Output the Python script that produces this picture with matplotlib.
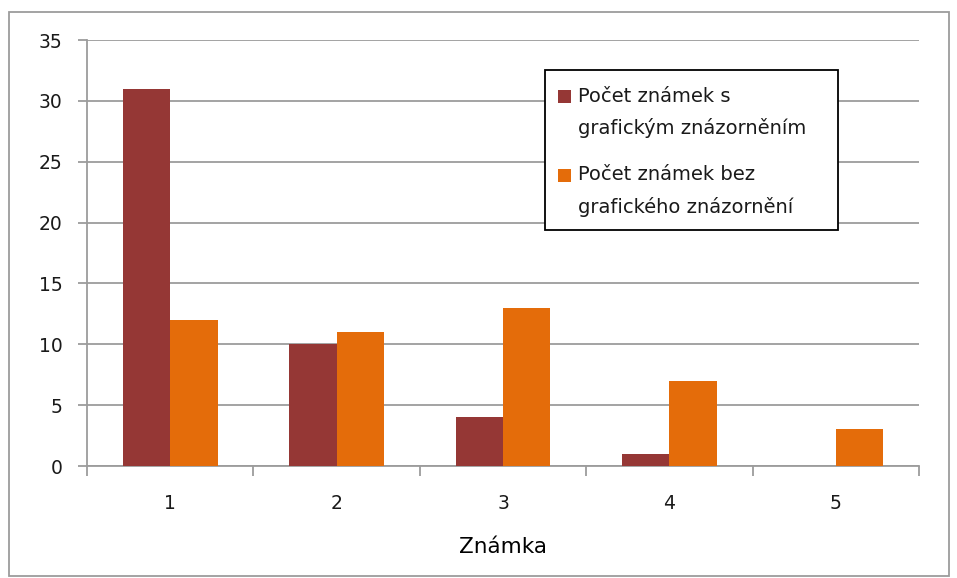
import matplotlib.pyplot as plt
import numpy as np
from matplotlib.patches import Rectangle

plt.rcParams['font.family'] = ['DejaVu Sans']
plt.rcParams['text.color'] = '#1a1a1a'
plt.rcParams['xtick.labelcolor'] = '#1a1a1a'
plt.rcParams['ytick.labelcolor'] = '#1a1a1a'

znamky = ['1', '2', '3', '4', '5']
s_grafem = [31, 10, 4, 1, 0]
bez_grafu = [12, 11, 13, 7, 3]
popisky = [['Počet známek s', 'grafickým znázorněním'],
           ['Počet známek bez', 'grafického znázornění']]

c_s = '#953735'
c_bez = '#E46C0A'
seda = '#9c9c9c'

W, H = 957, 578
fig = plt.figure(figsize=(W/100, H/100), dpi=100)


def px(x, y):
    # pixely od leveho horniho rohu -> souradnice obrazku
    return x / W, 1 - y / H


ax = fig.add_axes([87/W, 1 - 466/H, (919-87)/W, (466-40)/H])

x = np.arange(1, len(znamky) + 1)
w = 0.285
ax.bar(x - w/2, s_grafem, w, color=c_s, zorder=3)
ax.bar(x + w/2, bez_grafu, w, color=c_bez, zorder=3)

ax.set_xlim(0.5, 5.5)
ax.set_ylim(0, 35)
ax.set_yticks(range(0, 36, 5))
ax.yaxis.grid(True, color=seda, linewidth=1.3, zorder=0)

# kategorie popsany uprostred, carky mezi nimi
ax.set_xticks(x)
ax.set_xticklabels(znamky)
ax.set_xticks(np.arange(0.5, 5.6, 1), minor=True)
ax.tick_params(axis='x', which='major', length=0, pad=20.5, labelsize=13.5)
ax.tick_params(axis='x', which='minor', length=7.2, width=1.3, color=seda, direction='out')
ax.tick_params(axis='y', length=6.5, width=1.3, color=seda, direction='out', pad=11, labelsize=13.5)

for s in ['top', 'right']:
    ax.spines[s].set_visible(False)
for s in ['left', 'bottom']:
    ax.spines[s].set_color(seda)
    ax.spines[s].set_linewidth(1.3)

ax.set_xlabel('Známka', fontsize=15.5, labelpad=17)

# legenda rucne, ctverecek zarovnany s prvnim radkem popisku
fx, fy = px(545, 230)
fig.patches.append(Rectangle((fx, fy), (838-545)/W, (230-70)/H, transform=fig.transFigure,
                             facecolor='white', edgecolor='black', linewidth=1.3, zorder=5))
for barva, radky, y0 in zip([c_s, c_bez], popisky, [96, 175]):
    sx, sy = px(558, y0 + 6.5)
    fig.patches.append(Rectangle((sx, sy), 13/W, 13/H, transform=fig.transFigure,
                                 facecolor=barva, edgecolor='none', zorder=6))
    for i, radek in enumerate(radky):
        tx, ty = px(578, y0 + i * 32)
        fig.text(tx, ty, radek, fontsize=14, va='center', ha='left', zorder=7)

fig.patches.append(Rectangle(px(9, 576), (949-9)/W, (576-12)/H,
                             transform=fig.transFigure, fill=False,
                             edgecolor=seda, linewidth=1.3))

plt.savefig('out.png', dpi=100)
